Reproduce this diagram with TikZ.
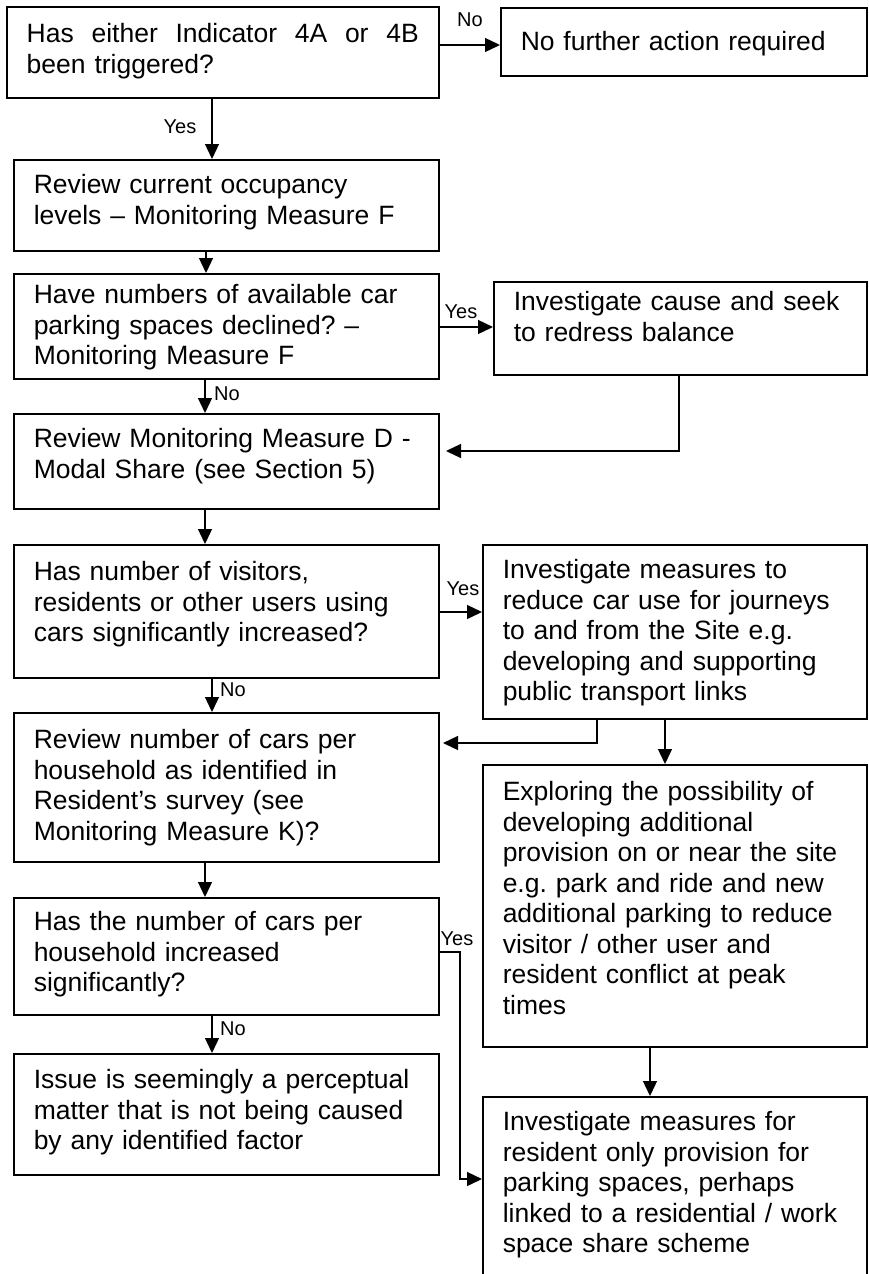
\documentclass[tikz,border=0pt]{standalone}
\usepackage{fontspec}
\setmainfont{Liberation Sans}
\usetikzlibrary{arrows.meta}
\frenchspacing

\begin{document}
\begin{tikzpicture}[x=1pt,y=-1pt,
  flow/.style={draw, line width=1.5pt, anchor=north west,
    inner xsep=20pt, inner ysep=0pt, align=left,
    font=\fontsize{26.5}{30.5}\selectfont, text height=#1},
  flow/.default=35pt,
  lab/.style={inner sep=0pt, font=\fontsize{20}{22}\selectfont},
  arr/.style={line width=1.3pt, -{Triangle[length=15pt,width=14pt]}},
  link/.style={line width=1.3pt}]

\clip (0,0) rectangle (869,1274);
\fill[white] (0,0) rectangle (869,1274);

% decision and action boxes
\node[flow=36pt, text width=392pt, text depth=55pt] (b1) at (6,6)
  {\makebox[392pt][s]{Has\hfill either\hfill Indicator\hfill 4A\hfill or\hfill 4B}\\been triggered?};
\node[flow=43pt, text width=326pt, text depth=25pt] (nf) at (500,7)
  {No further action required};
\node[flow=34pt, text width=385pt, text depth=57pt] (b2) at (13,159)
  {Review current occupancy\\levels -- Monitoring Measure F};
\node[flow=30pt, text width=385pt, text depth=75pt] (b3) at (13,273)
  {Have numbers of available car\\parking spaces declined? --\\Monitoring Measure F};
\node[flow=29pt, text width=333pt, text depth=64pt] (b4) at (493,281)
  {Investigate cause and seek\\to redress balance};
\node[flow=34pt, text width=385pt, text depth=61pt] (b5) at (13,413)
  {Review Monitoring Measure D -\\Modal Share (see Section 5)};
\node[flow=36pt, text width=385pt, text depth=97pt] (b6) at (13,544)
  {Has number of visitors,\\residents or other users using\\cars significantly increased?};
\node[flow=34pt, text width=344pt, text depth=140pt] (b7) at (482,544)
  {Investigate measures to\\reduce car use for journeys\\to and from the Site e.g.\\developing and supporting\\public transport links};
\node[flow=36pt, text width=385pt, text depth=113pt] (b8) at (13,712)
  {Review number of cars per\\household as identified in\\Resident’s survey (see\\Monitoring Measure K)?};
\node[flow=36pt, text width=344pt, text depth=246pt] (b9) at (482,764)
  {Exploring the possibility of\\developing additional\\provision on or near the site\\e.g. park and ride and new\\additional parking to reduce\\visitor / other user and\\resident conflict at peak\\times};
\node[flow=33pt, text width=385pt, text depth=84pt] (b10) at (13,897)
  {Has the number of cars per\\household increased\\significantly?};
\node[flow=35pt, text width=385pt, text depth=86pt] (b11) at (13,1053)
  {Issue is seemingly a perceptual\\matter that is not being caused\\by any identified factor};
\node[flow=34pt, text width=344pt, text depth=166pt] (b12) at (482,1096)
  {Investigate measures for\\resident only provision for\\parking spaces, perhaps\\linked to a residential / work\\space share scheme};

% free ends of the return connectors
\coordinate (b5in) at (446,451);
\coordinate (b8in) at (443,743);

% connectors
\draw[arr] (b1.east |- 0,45) -- (nf.west |- 0,45);
\draw[arr] (b1.south -| 212,0) -- (b2.north -| 212,0);
\draw[arr] (b2.south -| 206,0) -- (b3.north -| 206,0);
\draw[arr] (b3.east |- 0,327) -- (b4.west |- 0,327);
\draw[arr] (b3.south -| 205,0) -- (b5.north -| 205,0);
\draw[arr] (b4.south -| 679,0) |- (b5in);
\draw[arr] (b5.south -| 205,0) -- (b6.north -| 205,0);
\draw[arr] (b6.east |- 0,612) -- (b7.west |- 0,612);
\draw[arr] (b6.south -| 212,0) -- (b8.north -| 212,0);
\draw[arr] (b7.south -| 597,0) |- (b8in);
\draw[arr] (b7.south -| 665,0) -- (b9.north -| 665,0);
\draw[arr] (b8.south -| 205,0) -- (b10.north -| 205,0);
\draw[arr] (b10.east |- 0,952) -- (460,952) |- (b12.west |- 0,1179);
\draw[arr] (b10.south -| 212,0) -- (b11.north -| 212,0);
\draw[arr] (b9.south -| 650,0) -- (b12.north -| 650,0);

% branch labels
\node[lab] (l1) at (470,20) {No};
\node[lab] (l2) at (180,127) {Yes};
\node[lab] (l3) at (461,312) {Yes};
\node[lab] (l4) at (227,394) {No};
\node[lab] (l5) at (463,589) {Yes};
\node[lab] (l6) at (233,690) {No};
\node[lab] (l7) at (457,939) {Yes};
\node[lab] (l8) at (233,1029) {No};
\end{tikzpicture}
\end{document}
